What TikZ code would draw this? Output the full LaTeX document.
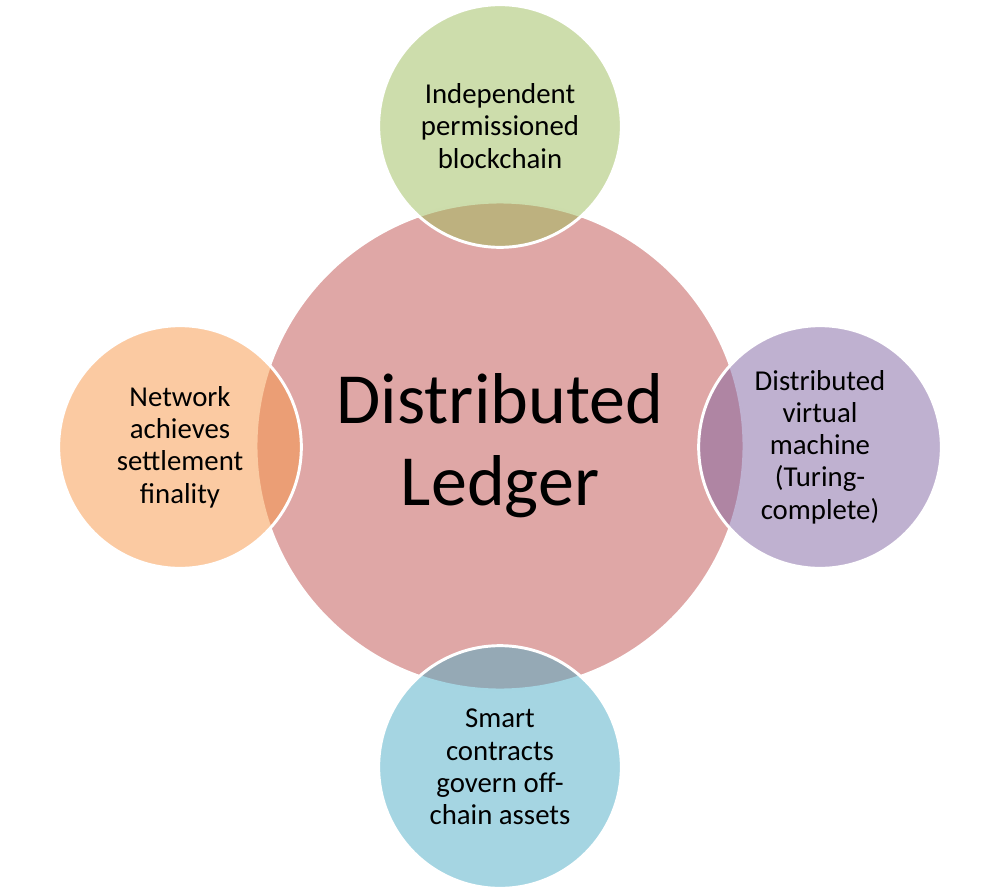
\documentclass[tikz,border=0pt]{standalone}
\usepackage{fontspec}
\setmainfont{Carlito}
\definecolor{cred}{HTML}{C0504D}
\definecolor{cgreen}{HTML}{9BBB59}
\definecolor{corange}{HTML}{F79646}
\definecolor{cpurple}{HTML}{8064A2}
\definecolor{cblue}{HTML}{4BACC6}
\begin{document}
\begin{tikzpicture}[x=0.75pt,y=-0.75pt,
  bubble/.style={circle,draw=white,line width=2.2pt,fill opacity=0.5,text opacity=1,
    inner sep=0pt,align=center,minimum size=182pt,font=\fontsize{21.6}{24.2}\selectfont}]
\useasboundingbox (0,0) rectangle (1000,893);
\node[bubble,fill=cred,minimum size=366pt,font=\fontsize{54}{61.5}\selectfont] (core) at (500,446) {Distributed\\Ledger};
\node[bubble,fill=cgreen] (top) at (500,126) {Independent\\permissioned\\blockchain};
\node[bubble,fill=corange] (left) at (180,447) {Network\\achieves\\settlement\\finality};
\node[bubble,fill=cpurple] (right) at (820,447) {Distributed\\virtual\\machine\\(Turing-\\complete)};
\node[bubble,fill=cblue] (bottom) at (500,767) {Smart\\contracts\\govern off-\\chain assets};
\end{tikzpicture}
\end{document}
